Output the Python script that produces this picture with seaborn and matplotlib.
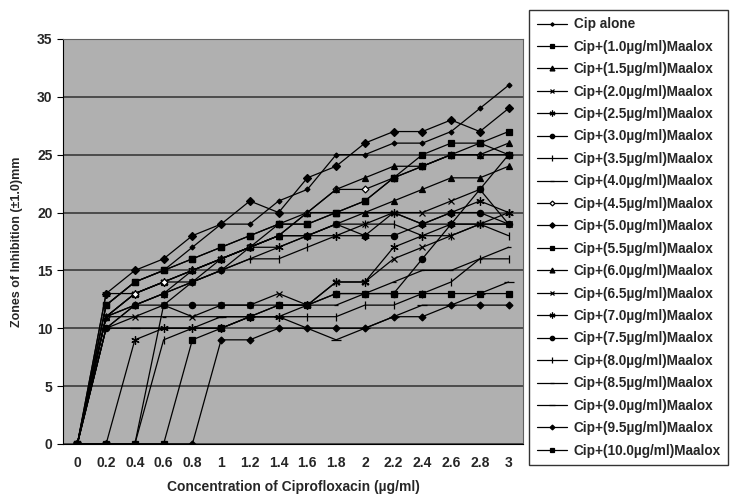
import numpy as np
import pandas as pd
import matplotlib
matplotlib.use("Agg")
import matplotlib.pyplot as plt
import seaborn as sns

sns.set_style("white")
plt.rcParams['font.family'] = ['Liberation Sans', 'DejaVu Sans']
plt.rcParams['font.weight'] = 'bold'

# concentrations of ciprofloxacin (category axis)
conc = ["0", "0.2", "0.4", "0.6", "0.8", "1", "1.2", "1.4", "1.6", "1.8",
        "2", "2.2", "2.4", "2.6", "2.8", "3"]

series_names = ["Cip alone"] + ["Cip+(%sµg/ml)Maalox" % c for c in
                ["1.0", "1.5", "2.0", "2.5", "3.0", "3.5", "4.0", "4.5", "5.0", "5.5",
                 "6.0", "6.5", "7.0", "7.5", "8.0", "8.5", "9.0", "9.5", "10.0"]]

cip_alone = [0, 12, 14, 15, 17, 19, 19, 21, 22, 25, 25, 26, 26, 27, 29, 31]
m_1_0 = [0, 12, 14, 15, 16, 17, 18, 19, 19, 20, 21, 23, 25, 26, 26, 25]
m_1_5 = [0, 11, 13, 14, 15, 16, 17, 18, 20, 20, 20, 21, 22, 23, 23, 24]
m_2_0 = [0, 11, 13, 14, 14, 16, 17, 18, 18, 19, 19, 20, 20, 21, 22, 19]
m_2_5 = [0, 13, 13, 14, 15, 16, 17, 17, 18, 18, 18, 20, 19, 20, 21, 20]
m_3_0 = [0, 10, 12, 13, 14, 15, 17, 18, 18, 19, 18, 18, 19, 20, 20, 19]
m_3_5 = [0, 11, 12, 13, 14, 15, 16, 16, 17, 18, 19, 19, 18, 18, 19, 18]
m_4_0 = [0, 10, 12, 12, 14, 15, 16, 17, 18, 19, 20, 20, 19, 19, 19, 19]
m_4_5 = [0, 11, 13, 14, 15, 16, 17, 19, 20, 22, 22, 23, 24, 25, 25, 25]
m_5_0 = [0, 13, 15, 16, 18, 19, 21, 20, 23, 24, 26, 27, 27, 28, 27, 29]
m_5_5 = [0, 12, 14, 15, 16, 17, 18, 19, 19, 20, 21, 23, 24, 25, 26, 27]
m_6_0 = [0, 11, 12, 13, 15, 16, 17, 18, 20, 22, 23, 24, 24, 25, 25, 26]
m_6_5 = [0, 11, 11, 12, 11, 12, 12, 13, 12, 14, 14, 16, 17, 18, 19, 19]
m_7_0 = [0, 0, 9, 10, 10, 10, 11, 11, 12, 14, 14, 17, 18, 19, 19, 20]
m_7_5 = [0, 0, 0, 12, 12, 12, 12, 12, 12, 13, 13, 13, 16, 19, 22, 25]
m_8_0 = [0, 0, 0, 9, 10, 10, 11, 11, 11, 11, 12, 12, 13, 14, 16, 16]
m_8_5 = [0, 10, 11, 11, 11, 11, 11, 12, 12, 12, 13, 14, 15, 15, 16, 17]
m_9_0 = [0, 10, 10, 10, 10, 11, 11, 11, 10, 9, 10, 11, 12, 12, 13, 14]
m_9_5 = [0, 0, 0, 0, 0, 9, 9, 10, 10, 10, 10, 11, 11, 12, 12, 12]
m_10_0 = [0, 0, 0, 0, 9, 10, 11, 12, 12, 13, 13, 13, 13, 13, 13, 13]

values = [cip_alone, m_1_0, m_1_5, m_2_0, m_2_5, m_3_0, m_3_5, m_4_0, m_4_5, m_5_0,
          m_5_5, m_6_0, m_6_5, m_7_0, m_7_5, m_8_0, m_8_5, m_9_0, m_9_5, m_10_0]

# marker styles mimic the Excel defaults
asterisk = (6, 2, 0)
styles = [("D", 2.5, "black"), ("s", 5, "black"), ("^", 5, "black"), ("x", 5, "black"),
          (asterisk, 6, "black"), ("o", 4.5, "black"), ("|", 6, "black"), ("_", 3.5, "black"),
          ("D", 3.5, "white"), ("D", 4, "black"), ("s", 5, "black"), ("^", 5, "black"),
          ("x", 5, "black"), (asterisk, 6, "black"), ("o", 4.5, "black"), ("|", 6, "black"),
          ("_", 3.5, "black"), ("_", 7, "black"), ("D", 3.5, "black"), ("s", 5, "black")]

rows = []
for name, vals in zip(series_names, values):
    for i, v in enumerate(vals):
        rows.append({"series": name, "idx": i, "zone": v})
df = pd.DataFrame(rows)

fig = plt.figure(figsize=(7.34, 5.01), dpi=100)
ax = fig.add_axes([0.0858, 0.1138, 0.6267, 0.8084])
ax.set_facecolor("#b0b0b0")

for name, (mk, ms, fc) in zip(series_names, styles):
    sub = df[df["series"] == name]
    sns.lineplot(data=sub, x="idx", y="zone", ax=ax, color="black", linewidth=0.9,
                 marker=mk, markersize=ms, markerfacecolor=fc, markeredgecolor="black",
                 markeredgewidth=0.9, label=name, legend=False)

ax.set_xlim(-0.5, len(conc) - 0.5)
ax.set_ylim(0, 35)
ax.set_yticks(range(0, 36, 5))
ax.set_xticks(range(len(conc)))
ax.set_xticklabels(conc)
ax.set_xticks(np.arange(-0.5, len(conc), 1), minor=True)
ax.tick_params(axis="x", which="major", length=0, labelsize=10, pad=9)
ax.tick_params(axis="x", which="minor", length=4, color="black")
ax.tick_params(axis="y", length=4, labelsize=10, left=True, color="black")
for lab in ax.get_xticklabels() + ax.get_yticklabels():
    lab.set_fontweight("bold")
ax.yaxis.grid(True, color="#303030", linewidth=1.1)
ax.xaxis.grid(False)
for side in ["left", "bottom"]:
    ax.spines[side].set_color("black")
for side in ["top", "right"]:
    ax.spines[side].set_color("#606060")

ax.set_xlabel("Concentration of Ciprofloxacin (µg/ml)", fontsize=10, fontweight="bold", labelpad=7)
ax.set_ylabel("Zones of Inhibition (±1.0)mm", fontsize=9, fontweight="bold", labelpad=10)

handles, labels = ax.get_legend_handles_labels()
leg = fig.legend(handles, labels, loc="upper left", bbox_to_anchor=(0.712, 0.994),
                 frameon=True, fancybox=False, edgecolor="black",
                 labelspacing=0.62, handlelength=2.2, handletextpad=0.5, borderpad=0.55,
                 markerscale=0.7, prop={"weight": "bold", "size": 9.8})
leg.get_frame().set_linewidth(1.0)

fig.savefig("out.png", dpi=100, facecolor="white")
